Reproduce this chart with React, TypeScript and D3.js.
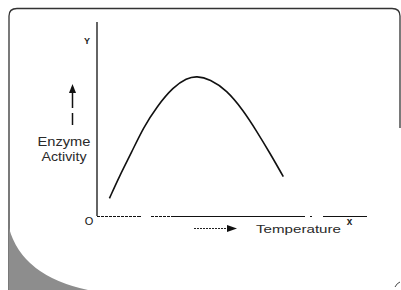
import React, { useEffect, useRef } from "react";
import * as d3 from "d3";

// curve (temperature vs enzyme activity, arbitrary units 0-100)
const temperature = [4.6, 8.5, 12.9, 17.2, 22.1, 28.3, 33.2, 36.9, 41.9, 48.0, 54.2, 59.1, 64.1, 69.0];
const activity = [9.1, 21.1, 33.1, 45.6, 56.3, 66.6, 71.0, 72.2, 70.5, 64.9, 54.4, 43.8, 32.3, 20.3];

const yLabelLines = ["Enzyme", "Activity"];
const xLabel = "Temperature";
const originLabel = "O";
const xAxisName = "x";
const yAxisName = "Y";

const W = 401, H = 290;
const margin = { top: 22, right: 34, bottom: 74, left: 97 };

export default function App() {
  const ref = useRef<SVGSVGElement | null>(null);

  useEffect(() => {
    const svg = d3.select(ref.current);
    svg.selectAll("*").remove();

    const x = d3.scaleLinear().domain([0, 100]).range([margin.left, W - margin.right]);
    const y = d3.scaleLinear().domain([0, 100]).range([H - margin.bottom, margin.top]);

    // scanned page frame
    svg.append("path")
      .attr("d", "M9,290 L9,16 Q9,8.5 17,8.5 L392,8.5 Q400,8.5 400,16 L400,128")
      .attr("fill", "none").attr("stroke", "#333").attr("stroke-width", 1.3);
    // grey smudge bottom left
    svg.append("path")
      .attr("d", "M9,228 Q22,276 88,290 L9,290 Z")
      .attr("fill", "#8d8d8d");
    svg.append("path")
      .attr("d", "M395,287 Q397,283 400,282")
      .attr("fill", "none").attr("stroke", "#444").attr("stroke-width", 1);

    const g = svg.append("g");

    // axes
    g.append("line")
      .attr("x1", x(0)).attr("x2", x(0))
      .attr("y1", y(0)).attr("y2", y(100))
      .attr("stroke", "#111").attr("stroke-width", 1.3);
    g.append("line")
      .attr("x1", x(0)).attr("x2", x(100))
      .attr("y1", y(0) + 0.5).attr("y2", y(0) + 0.5)
      .attr("stroke", "#111").attr("stroke-width", 1.2)
      .attr("stroke-dasharray", "3,1,3,1,3,1,3,1,3,1,3,1,3,1,3,1,3,1,3,1,4,10,3,1,3,1,3,1,3,1,3,1,134,5,2,11,44");

    // curve
    const pts = temperature.map((t, i) => [t, activity[i]] as [number, number]);
    const line = d3.line<[number, number]>()
      .x(d => x(d[0])).y(d => y(d[1]))
      .curve(d3.curveBasis);
    g.append("path")
      .attr("d", line(pts))
      .attr("fill", "none").attr("stroke", "#111").attr("stroke-width", 1.6);

    const font = "Liberation Sans, Arial, sans-serif";

    // axis names
    g.append("text").text(yAxisName)
      .attr("x", x(0) - 10).attr("y", y(100) + 22)
      .attr("text-anchor", "middle").attr("font-family", font)
      .attr("font-size", 9).attr("font-weight", "bold").attr("fill", "#222");
    g.append("text").text(originLabel)
      .attr("x", x(0) - 8).attr("y", y(0) + 8.5)
      .attr("text-anchor", "middle").attr("font-family", font)
      .attr("font-size", 11).attr("fill", "#111");
    g.append("text").text(xAxisName)
      .attr("x", x(93.5)).attr("y", y(0) + 9)
      .attr("text-anchor", "middle").attr("font-family", font)
      .attr("font-size", 10).attr("font-weight", "bold").attr("fill", "#222");

    // y label with up arrow
    yLabelLines.forEach((s, i) => {
      g.append("text").text(s)
        .attr("x", 64).attr("y", 146 + i * 15)
        .attr("text-anchor", "middle").attr("font-family", font)
        .attr("font-size", 12).attr("fill", "#2a2a2a")
        .attr("textLength", i === 0 ? 53 : 45).attr("lengthAdjust", "spacingAndGlyphs");
    });
    g.append("line")
      .attr("x1", 72.5).attr("x2", 72.5).attr("y1", 125).attr("y2", 90)
      .attr("stroke", "#111").attr("stroke-width", 1.5)
      .attr("stroke-dasharray", "12,5,30");
    g.append("path")
      .attr("d", "M72.5,84 L69,93 L76,93 Z").attr("fill", "#111");

    // x label with right arrow
    g.append("line")
      .attr("x1", 194).attr("x2", 230).attr("y1", 228.5).attr("y2", 228.5)
      .attr("stroke", "#222").attr("stroke-width", 1.2)
      .attr("stroke-dasharray", "2,1");
    g.append("path")
      .attr("d", "M237,228.5 L227,225 L227,232 Z").attr("fill", "#111");
    g.append("text").text(xLabel)
      .attr("x", 256).attr("y", 232.5)
      .attr("font-family", font).attr("font-size", 11).attr("fill", "#2a2a2a")
      .attr("textLength", 85).attr("lengthAdjust", "spacingAndGlyphs");
  }, []);

  return (
    <svg ref={ref} width={W} height={H}
      style={{ position: "absolute", left: 0, top: 0, background: "#fff" }} />
  );
}
